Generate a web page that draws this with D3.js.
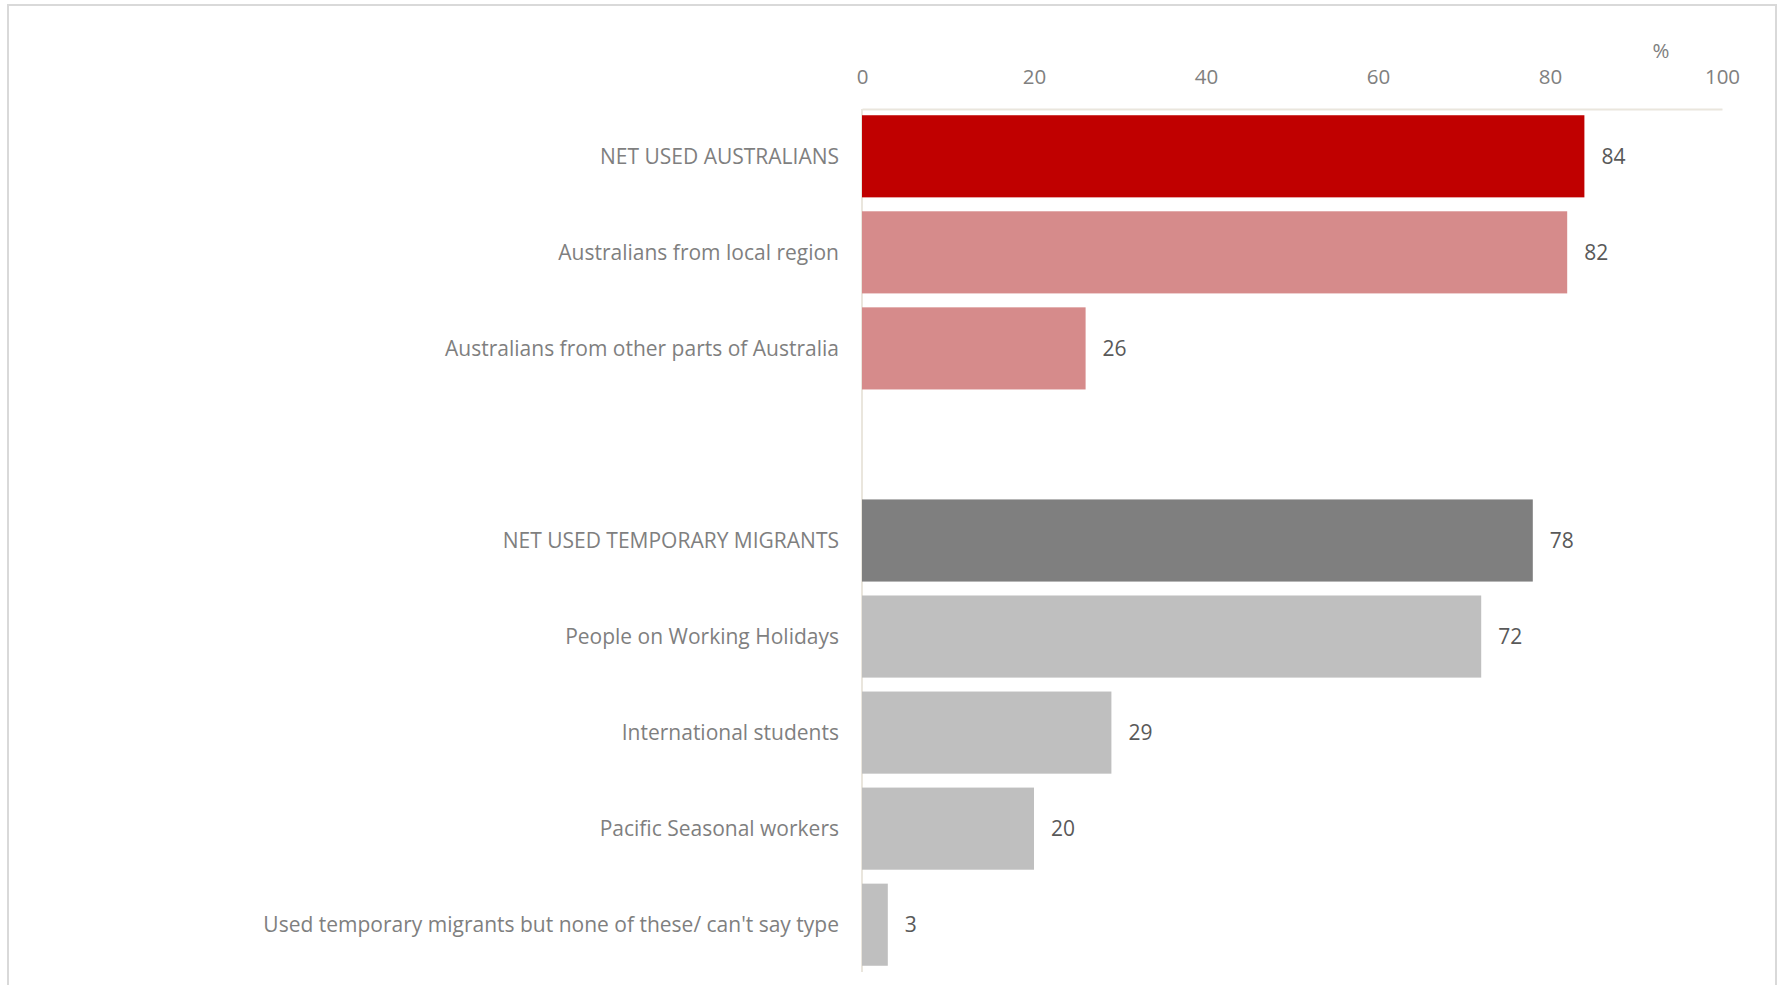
<!DOCTYPE html>
<html>
<head>
<meta charset="utf-8">
<script src="https://cdn.jsdelivr.net/npm/d3@7"></script>
<style>
  body { margin: 0; background: #fff; }
  svg { display: block; font-family: "Open Sans", "Noto Sans", sans-serif; }
</style>
</head>
<body>
<svg></svg>
<script>
var width = 1783,
    height = 985;

// data (blank row is the gap between the two groups)
var categories = ["NET USED AUSTRALIANS", "Australians from local region", "Australians from other parts of Australia", "",
    "NET USED TEMPORARY MIGRANTS", "People on Working Holidays", "International students", "Pacific Seasonal workers",
    "Used temporary migrants but none of these/ can't say type"];
var values = [84, 82, 26, null, 78, 72, 29, 20, 3];
var barColors = ["#C00000", "#D68B8B", "#D68B8B", "none", "#7F7F7F", "#BFBFBF", "#BFBFBF", "#BFBFBF", "#BFBFBF"];
var tickValues = [0, 20, 40, 60, 80, 100];

var svg = d3.select("svg")
    .attr("width", width)
    .attr("height", height);

// chart border
svg.append("rect")
    .attr("x", 8).attr("y", 5)
    .attr("width", 1768).attr("height", 1000)
    .attr("fill", "none")
    .attr("stroke", "#D9D9D9")
    .attr("stroke-width", 2);

var x = d3.scaleLinear().domain([0, 100]).range([862, 1722]);
var y = d3.scaleBand()
    .domain(d3.range(categories.length))
    .range([109, 972])
    .paddingInner(0.145)
    .paddingOuter(0.065);

var rows = categories.map((c, i) => ({ name: c, value: values[i], color: barColors[i], i: i }));

// top axis
var axis = svg.append("g")
    .attr("transform", "translate(0,109)")
    .call(d3.axisTop(x).tickValues(tickValues).tickSize(0).tickSizeOuter(0).tickPadding(25));
axis.select(".domain").attr("stroke", "#EAE6DD").attr("stroke-width", 2);
axis.selectAll("text")
    .attr("fill", "#808080")
    .style("font-size", "20.5px")
    .style("font-family", "'Open Sans', sans-serif");

svg.append("text")
    .attr("x", 1661).attr("y", 58)
    .attr("text-anchor", "middle")
    .attr("fill", "#808080")
    .style("font-size", "20.5px")
    .text("%");

// vertical axis line
svg.append("line")
    .attr("x1", x(0)).attr("x2", x(0))
    .attr("y1", 109).attr("y2", 972)
    .attr("stroke", "#EAE6DD")
    .attr("stroke-width", 2);

var bars = rows.filter(d => d.value != null);

svg.selectAll("rect.bar")
    .data(bars)
    .enter().append("rect")
    .attr("class", "bar")
    .attr("x", x(0))
    .attr("y", d => y(d.i))
    .attr("width", d => x(d.value) - x(0))
    .attr("height", y.bandwidth())
    .attr("fill", d => d.color);

svg.selectAll("text.cat")
    .data(rows.filter(d => d.name))
    .enter().append("text")
    .attr("class", "cat")
    .attr("x", 839)
    .attr("y", d => y(d.i) + y.bandwidth() / 2)
    .attr("dy", "0.35em")
    .attr("text-anchor", "end")
    .attr("fill", "#7F7F7F")
    .style("font-size", "21px")
    .text(d => d.name);

svg.selectAll("text.val")
    .data(bars)
    .enter().append("text")
    .attr("class", "val")
    .attr("x", d => x(d.value) + 17)
    .attr("y", d => y(d.i) + y.bandwidth() / 2)
    .attr("dy", "0.35em")
    .attr("fill", "#595959")
    .style("font-size", "21px")
    .text(d => d.value);
</script>
</body>
</html>
